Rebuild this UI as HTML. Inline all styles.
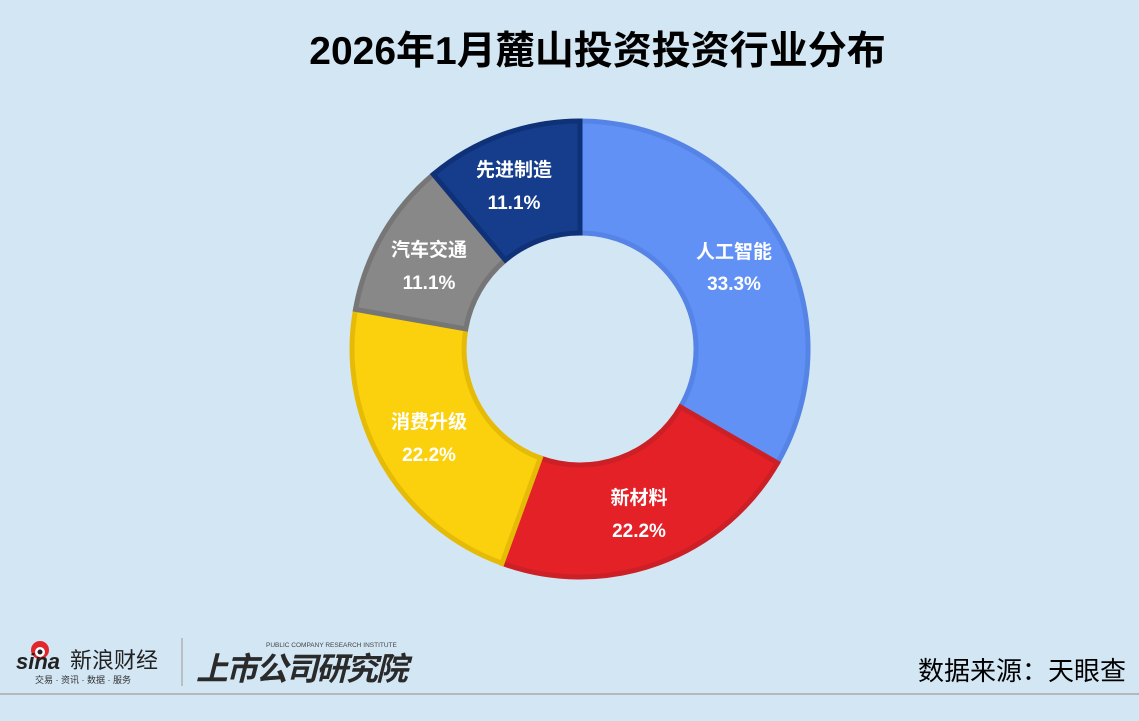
<!DOCTYPE html>
<html><head><meta charset="utf-8"><style>
html,body{margin:0;padding:0}
body{width:1139px;height:721px;background:#d3e6f4;position:relative;overflow:hidden;font-family:"Liberation Sans","Noto Sans CJK SC",sans-serif}
.t{position:absolute;left:28px;width:1139px;top:20px;text-align:center;font-size:39px;font-weight:bold;color:#000}
</style></head><body>
<div class="t">2026年1月麓山投资投资行业分布</div>
<svg width="1139" height="721" style="position:absolute;left:0;top:0" font-family="Liberation Sans, Noto Sans CJK SC, sans-serif">
<g stroke-width="5" stroke-linejoin="miter">
<path d="M580,121 A228,228 0 0 1 777.5,463 L680.5,407 A116,116 0 0 0 580,233 Z" fill="#6291f6" stroke="#5584e6"/>
<path d="M777.5,463 A228,228 0 0 1 502,563.3 L540.3,458 A116,116 0 0 0 680.5,407 Z" fill="#e32127" stroke="#cc1f26"/>
<path d="M502,563.3 A228,228 0 0 1 355.5,309.4 L465.8,328.9 A116,116 0 0 0 540.3,458 Z" fill="#fad10c" stroke="#e6bb08"/>
<path d="M355.5,309.4 A228,228 0 0 1 433.4,174.3 L505.4,260.1 A116,116 0 0 0 465.8,328.9 Z" fill="#888888" stroke="#767676"/>
<path d="M433.4,174.3 A228,228 0 0 1 580,121 L580,233 A116,116 0 0 0 505.4,260.1 Z" fill="#153d8c" stroke="#0f3177"/>
</g>
<g fill="#fff" font-size="19" font-weight="bold" text-anchor="middle">
<text x="734" y="258">人工智能</text><text x="734" y="290">33.3%</text>
<text x="639" y="504">新材料</text><text x="639" y="537">22.2%</text>
<text x="429" y="428">消费升级</text><text x="429" y="461">22.2%</text>
<text x="429" y="256">汽车交通</text><text x="429" y="289">11.1%</text>
<text x="514" y="176">先进制造</text><text x="514" y="209">11.1%</text>
</g>
<line x1="0" y1="694" x2="1139" y2="694" stroke="#a8a8a8" stroke-width="1.5"/>
<circle cx="40" cy="650" r="9" fill="#e3262b"/>
<circle cx="40" cy="652" r="5" fill="#fff"/>
<circle cx="40" cy="652" r="2.5" fill="#222"/>
<text x="16" y="669" font-size="22" font-weight="bold" font-style="italic" fill="#222">sina</text>
<text x="70" y="668" font-size="22" fill="#222">新浪财经</text>
<text x="35" y="683" font-size="9" fill="#333">交易 · 资讯 · 数据 · 服务</text>
<line x1="182" y1="638" x2="182" y2="686" stroke="#999" stroke-width="1"/>
<text x="266" y="647" font-size="6.5" fill="#444">PUBLIC COMPANY RESEARCH INSTITUTE</text>
<text x="196" y="680" font-size="32" font-weight="bold" font-style="italic" fill="#2a2a2a" letter-spacing="-2">上市公司研究院</text>
<text x="1126" y="680" font-size="26" fill="#000" text-anchor="end">数据来源：天眼查</text>
</svg>
</body></html>
